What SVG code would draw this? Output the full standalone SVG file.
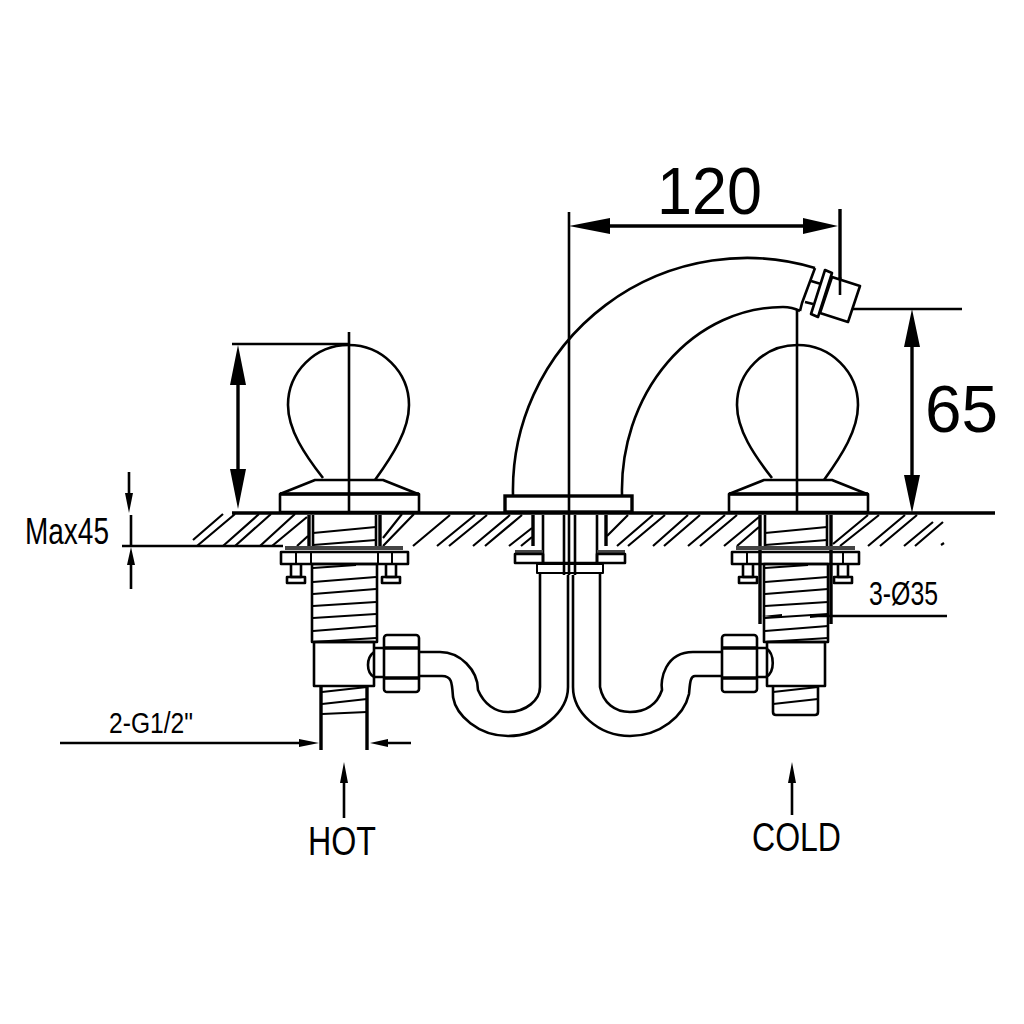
<svg xmlns="http://www.w3.org/2000/svg" width="1024" height="1024" viewBox="0 0 1024 1024">
<style>
.l{fill:none;stroke:#000;stroke-width:2.6;stroke-linejoin:round;stroke-linecap:butt}
.t{stroke-width:2}
.h{fill:none;stroke:#000;stroke-width:2.2}
.k{fill:none;stroke:#000;stroke-width:3.4}
.w{fill:#fff;stroke:#000;stroke-width:2.6;stroke-linejoin:round}
.d{fill:none;stroke:#000;stroke-width:2.6}
.a{fill:#000;stroke:none}
text{font-family:"Liberation Sans",Arial,sans-serif;fill:#000}
</style>
<defs>
<g id="valveTop">
<path class="l" d="M-26,-35C-44,-58 -61,-83 -61,-108A60.5,60 0 0 1 60,-108C60,-83 44,-58 26,-33"/>
<path class="l" d="M-69,-19L-34,-33H34L69,-19"/>
<rect class="l" x="-69" y="-19" width="139" height="18"/>
<path class="k" d="M-69,-19H70"/>
</g>
<g id="threads">
<path class="t l" d="M0,17L43,14M0,31L63,26M0,43L63,38M0,55L63,51M0,67L63,63M0,80L63,75M0,91L63,87"/>
</g>
<g id="bolt">
<path class="l" d="M-5,0V13H5V0"/>
<rect class="l" x="-9" y="13" width="18" height="6"/>
</g>
<g id="nut">
<rect class="l" x="0" y="0" width="35" height="57" rx="3"/>
<path class="k" d="M1,13H34M1,43H34"/>
</g>
</defs>

<g id="connectors">
<path class="k" d="M232,513H995"/>
<g id="hatching">
<path class="h" d="M193,540L223,514M197,546L235,514M223,546L259,514M235,546L271,514M260,546L295,514M272,546L307,517M297,546L308,536M383,538L402,514M383,546L414,514M413,546L450,515M437,546L475,515M449,546L487,515M473,546L510,515M485,546L522,515M509,546L532,528M521,546L532,537M607,536L628,515M617,546L653,515M628,546L665,515M653,546L688,515M664,546L700,515M688,546L725,515M700,546L737,515M724,546L759,517M737,546L759,527M833,544L868,515M840,546L879,515M868,546L905,515M880,546L917,515M904,546L933,522M915,546L943,522M941,545L944,543"/>
</g>
<path class="d" d="M122,546H283"/>
<path class="d" d="M232,344H350M349,332V512"/>
<path class="k" d="M238,375V480"/>
<path class="a" d="M238,345L246,385H230ZM238,509L230,469H246Z"/>
<path class="d" d="M129,472V497M131,515V546M131,560V589"/>
<path class="a" d="M129,513L125,493H133ZM131,547L135,565H127Z"/>
<path class="d" d="M569,212V575"/>
<path class="k" d="M600,226H810"/>
<path class="k" d="M840,209V295"/>
<path class="a" d="M569,226L610,218V234ZM838,226L803,234V218Z"/>
<path class="d" d="M853,309H962"/>
<path class="k" d="M912,340V480"/>
<path class="a" d="M912,309L920,347H904ZM912,513L904,475H920Z"/>
<path class="d" d="M797,310V512"/>
<path class="d" d="M810,616H947"/>
<path class="a" d="M762,616L782,614V618ZM826,616L810,614V618Z"/>
<path class="k" d="M760,515V624M831,515V624"/>
<path class="d" d="M60,743H305M385,743H411"/>
<path class="a" d="M319,743L299,739V747ZM370,743L388,739V747Z"/>
<path class="d" d="M344,775V818M792,775V815"/>
<path class="a" d="M344,762L348,783H340ZM792,762L796,783H788Z"/>
</g>

<g id="spout">
<path class="l" d="M513,495A234,232 0 0 1 815,268"/>
<path class="l" d="M622,495A161,183 0 0 1 783,307Q792,307 800,311"/>
<path class="l" d="M815,268L802,303L800,311"/>
<path class="l" d="M811,281L821,284M805,302L813,304"/>
<path class="w" d="M825,270L832,273L818,317L811,314Z"/>
<path class="w" d="M832,277L860,286L848,322L820,313Z"/>
<path class="d" d="M840,277V295"/>
<rect class="k" x="505" y="496" width="127" height="16" fill="none"/>
</g>

<g id="valve-left">
<use href="#valveTop" x="349" y="513"/>
<path class="k" d="M309,515V546M380,515V546"/>
<path class="l" d="M313,515V546M376,515V546"/>
<path class="t l" d="M313,533L376,527M313,545L376,540"/>
<rect x="285" y="546" width="118" height="4" fill="#444"/>
<rect class="l" x="281" y="552" width="127" height="12"/>
<path class="t l" d="M296,552V564M311,552V564M378,552V564M392,552V564"/>
<use href="#bolt" x="296" y="564"/>
<use href="#bolt" x="391" y="564"/>
<rect class="l" x="312" y="564" width="65" height="78"/>
<use href="#threads" x="313" y="551"/>
<path class="l" d="M314,642H374V686H314Z"/>
<path class="l" d="M374,652C366,658 366,672 374,677M374,648H384M374,677H384"/>
<path class="k" d="M321,686V750M367,686V750"/>
<path class="t l" d="M322,692L367,687M322,704L367,699M322,714L367,712"/>
<use href="#nut" x="384" y="635"/>
</g>

<g id="pipes">
<path class="l" d="M419,652H440C460,652 478,670 478,690C484,704 495,712 508,712C526,712 540,700 540,687V573"/>
<path class="l" d="M419,676H442C452,676 452,683 453,697C456,715 478,736 508,736C540,736 568,712 568,687V575"/>
<path class="l" d="M721,652H693C665,652 660,680 662,690C657,705 645,712 630,712C615,712 603,703 600,687V573"/>
<path class="l" d="M721,676H695C690,676 690,684 689,694C684,716 660,736 630,736C598,736 573,712 573,687V575"/>
</g>

<g id="valve-center">
<path class="k" d="M533,515V546M606,515V546"/>
<path class="l" d="M543,515V563M597,515V563M564,515V575M575,515V575"/>
<rect x="515" y="550" width="28" height="4" fill="#444"/>
<rect x="597" y="550" width="28" height="4" fill="#444"/>
<rect class="l" x="515" y="554" width="28" height="9"/>
<rect class="l" x="597" y="554" width="28" height="9"/>
<rect class="t l" x="537" y="564" width="66" height="9"/>
<path class="l" d="M543,563H597"/>
</g>

<g id="valve-right">
<use href="#valveTop" x="798" y="513"/>
<path class="l" d="M765,515V546M827,515V546"/>
<path class="t l" d="M765,533L827,527M765,545L827,540"/>
<rect x="736" y="546" width="119" height="4" fill="#444"/>
<rect class="l" x="732" y="552" width="127" height="12"/>
<path class="t l" d="M747,552V564M843,552V564"/>
<use href="#bolt" x="748" y="564"/>
<use href="#bolt" x="843" y="564"/>
<rect class="l" x="764" y="564" width="64" height="78"/>
<use href="#threads" x="765" y="551"/>
<path class="l" d="M767,642H825V686H767Z"/>
<path class="l" d="M766,648C775,654 775,672 766,677M757,648H766M757,677H766"/>
<path class="l" d="M773,686V712Q773,715 776,715H815Q818,715 818,712V686"/>
<path class="t l" d="M773,692L818,687M773,704L818,699"/>
<use href="#nut" x="722" y="635"/>
</g>

<g id="labels">
<text x="657" y="214" font-size="66" textLength="105" lengthAdjust="spacingAndGlyphs">120</text>
<text x="925" y="432" font-size="66" textLength="73" lengthAdjust="spacingAndGlyphs">65</text>
<text x="25" y="544" font-size="37" textLength="84" lengthAdjust="spacingAndGlyphs">Max45</text>
<text x="869" y="605" font-size="34" textLength="69" lengthAdjust="spacingAndGlyphs">3-Ø35</text>
<text x="109" y="733" font-size="30" textLength="84" lengthAdjust="spacingAndGlyphs">2-G1/2"</text>
<text x="308" y="855" font-size="41" textLength="68" lengthAdjust="spacingAndGlyphs">HOT</text>
<text x="752" y="851" font-size="41" textLength="89" lengthAdjust="spacingAndGlyphs">COLD</text>
</g>
</svg>
